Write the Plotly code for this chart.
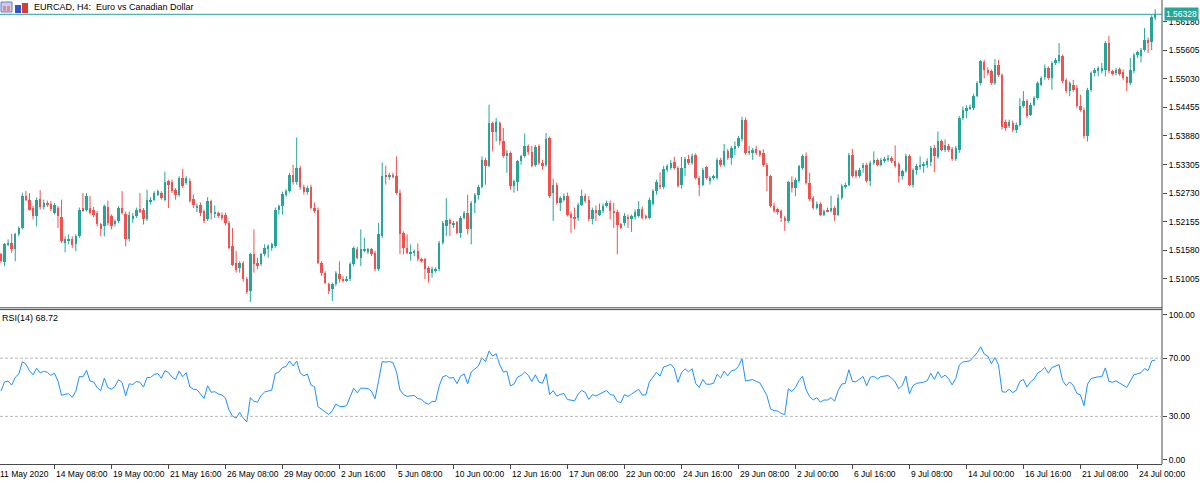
#!/usr/bin/env python3
# -*- coding: utf-8 -*-

'''
EURCAD H4 candles with RSI(14) pane, MetaTrader look
'''

import plotly

# OHLC of the H4 bars, 11 May 2020 20:00 .. 24 Jul 2020 20:00
opens = [
    1.5150, 1.5134, 1.5170, 1.5172, 1.5160, 1.5190, 1.5203, 1.5268, 1.5260, 1.5243,
    1.5227, 1.5261, 1.5245, 1.5254, 1.5252, 1.5233, 1.5243, 1.5225, 1.5173, 1.5178,
    1.5180, 1.5170, 1.5186, 1.5243, 1.5240, 1.5243, 1.5240, 1.5233, 1.5210, 1.5206,
    1.5246, 1.5227, 1.5210, 1.5216, 1.5243, 1.5232, 1.5180, 1.5220, 1.5227, 1.5241,
    1.5240, 1.5221, 1.5255, 1.5260, 1.5270, 1.5273, 1.5260, 1.5297, 1.5296, 1.5279,
    1.5270, 1.5303, 1.5293, 1.5298, 1.5262, 1.5245, 1.5250, 1.5237, 1.5220, 1.5257,
    1.5232, 1.5233, 1.5230, 1.5230, 1.5213, 1.5166, 1.5133, 1.5123, 1.5132, 1.5100,
    1.5076, 1.5150, 1.5133, 1.5130, 1.5150, 1.5160, 1.5163, 1.5166, 1.5240, 1.5247,
    1.5270, 1.5277, 1.5310, 1.5295, 1.5324, 1.5285, 1.5275, 1.5286, 1.5244, 1.5240,
    1.5133, 1.5113, 1.5090, 1.5080, 1.5090, 1.5110, 1.5100, 1.5098, 1.5100, 1.5130,
    1.5161, 1.5143, 1.5158, 1.5156, 1.5160, 1.5153, 1.5120, 1.5187, 1.5308, 1.5306,
    1.5310, 1.5307, 1.5274, 1.5193, 1.5163, 1.5150, 1.5153, 1.5157, 1.5140, 1.5140,
    1.5123, 1.5113, 1.5118, 1.5120, 1.5173, 1.5207, 1.5219, 1.5210, 1.5214, 1.5193,
    1.5223, 1.5233, 1.5201, 1.5254, 1.5270, 1.5286, 1.5340, 1.5328, 1.5414, 1.5397,
    1.5414, 1.5377, 1.5348, 1.5354, 1.5287, 1.5295, 1.5337, 1.5347, 1.5368, 1.5355,
    1.5330, 1.5367, 1.5334, 1.5330, 1.5384, 1.5274, 1.5290, 1.5254, 1.5260, 1.5268,
    1.5232, 1.5226, 1.5223, 1.5250, 1.5268, 1.5260, 1.5220, 1.5240, 1.5230, 1.5237,
    1.5248, 1.5254, 1.5237, 1.5235, 1.5210, 1.5213, 1.5226, 1.5221, 1.5225, 1.5227,
    1.5241, 1.5227, 1.5223, 1.5252, 1.5277, 1.5290, 1.5285, 1.5320, 1.5324, 1.5335,
    1.5324, 1.5290, 1.5324, 1.5342, 1.5334, 1.5349, 1.5304, 1.5290, 1.5325, 1.5297,
    1.5304, 1.5304, 1.5340, 1.5330, 1.5357, 1.5344, 1.5362, 1.5368, 1.5381, 1.5421,
    1.5354, 1.5354, 1.5362, 1.5357, 1.5354, 1.5330, 1.5307, 1.5248, 1.5241, 1.5237,
    1.5223, 1.5216, 1.5295, 1.5284, 1.5297, 1.5324, 1.5347, 1.5294, 1.5264, 1.5244,
    1.5252, 1.5230, 1.5240, 1.5237, 1.5244, 1.5230, 1.5264, 1.5287, 1.5290, 1.5350,
    1.5317, 1.5307, 1.5324, 1.5330, 1.5297, 1.5334, 1.5339, 1.5330, 1.5339, 1.5340,
    1.5344, 1.5337, 1.5332, 1.5307, 1.5317, 1.5347, 1.5290, 1.5319, 1.5327, 1.5327,
    1.5330, 1.5335, 1.5364, 1.5346, 1.5377, 1.5360, 1.5368, 1.5362, 1.5342, 1.5360,
    1.5424, 1.5438, 1.5444, 1.5444, 1.5469, 1.5494, 1.5536, 1.5520, 1.5518, 1.5495,
    1.5531, 1.5511, 1.5417, 1.5409, 1.5415, 1.5401, 1.5411, 1.5449, 1.5458, 1.5431,
    1.5451, 1.5464, 1.5491, 1.5506, 1.5524, 1.5505, 1.5535, 1.5538, 1.5548, 1.5501,
    1.5478, 1.5491, 1.5484, 1.5448, 1.5441, 1.5387, 1.5481, 1.5514, 1.5518, 1.5518,
    1.5521, 1.5575, 1.5518, 1.5514, 1.5522, 1.5516, 1.5506, 1.5494, 1.5518, 1.5551,
    1.5548, 1.5561, 1.5582, 1.5578, 1.5625,
]
highs = [
    1.5153, 1.5173, 1.5180, 1.5191, 1.5193, 1.5206, 1.5274, 1.5277, 1.5273, 1.5247,
    1.5264, 1.5279, 1.5260, 1.5258, 1.5257, 1.5253, 1.5247, 1.5260, 1.5186, 1.5190,
    1.5186, 1.5190, 1.5244, 1.5273, 1.5273, 1.5267, 1.5245, 1.5237, 1.5213, 1.5250,
    1.5258, 1.5230, 1.5220, 1.5247, 1.5277, 1.5236, 1.5236, 1.5233, 1.5244, 1.5273,
    1.5243, 1.5280, 1.5265, 1.5277, 1.5280, 1.5277, 1.5316, 1.5300, 1.5300, 1.5283,
    1.5307, 1.5322, 1.5307, 1.5303, 1.5270, 1.5252, 1.5254, 1.5240, 1.5265, 1.5260,
    1.5248, 1.5236, 1.5234, 1.5234, 1.5217, 1.5203, 1.5157, 1.5136, 1.5136, 1.5104,
    1.5153, 1.5200, 1.5143, 1.5153, 1.5170, 1.5170, 1.5173, 1.5244, 1.5250, 1.5276,
    1.5281, 1.5314, 1.5330, 1.5385, 1.5328, 1.5290, 1.5288, 1.5290, 1.5254, 1.5244,
    1.5136, 1.5116, 1.5093, 1.5093, 1.5116, 1.5136, 1.5106, 1.5106, 1.5134, 1.5166,
    1.5165, 1.5200, 1.5183, 1.5163, 1.5163, 1.5157, 1.5213, 1.5335, 1.5328, 1.5314,
    1.5314, 1.5347, 1.5280, 1.5196, 1.5190, 1.5170, 1.5160, 1.5172, 1.5143, 1.5143,
    1.5126, 1.5125, 1.5124, 1.5177, 1.5217, 1.5263, 1.5222, 1.5217, 1.5217, 1.5227,
    1.5237, 1.5270, 1.5257, 1.5273, 1.5290, 1.5347, 1.5344, 1.5451, 1.5417, 1.5424,
    1.5417, 1.5404, 1.5360, 1.5357, 1.5300, 1.5340, 1.5350, 1.5393, 1.5371, 1.5368,
    1.5370, 1.5371, 1.5340, 1.5394, 1.5387, 1.5302, 1.5294, 1.5267, 1.5272, 1.5274,
    1.5236, 1.5244, 1.5254, 1.5280, 1.5272, 1.5267, 1.5244, 1.5248, 1.5252, 1.5252,
    1.5258, 1.5258, 1.5254, 1.5240, 1.5213, 1.5233, 1.5230, 1.5230, 1.5240, 1.5257,
    1.5246, 1.5230, 1.5264, 1.5281, 1.5300, 1.5315, 1.5328, 1.5331, 1.5340, 1.5346,
    1.5327, 1.5346, 1.5346, 1.5350, 1.5353, 1.5353, 1.5307, 1.5324, 1.5328, 1.5307,
    1.5310, 1.5344, 1.5344, 1.5372, 1.5362, 1.5368, 1.5377, 1.5388, 1.5427, 1.5425,
    1.5368, 1.5364, 1.5368, 1.5360, 1.5361, 1.5334, 1.5310, 1.5254, 1.5244, 1.5240,
    1.5227, 1.5298, 1.5307, 1.5304, 1.5330, 1.5351, 1.5355, 1.5314, 1.5267, 1.5256,
    1.5255, 1.5240, 1.5244, 1.5268, 1.5247, 1.5270, 1.5291, 1.5294, 1.5354, 1.5362,
    1.5320, 1.5324, 1.5334, 1.5334, 1.5338, 1.5357, 1.5343, 1.5344, 1.5346, 1.5350,
    1.5347, 1.5369, 1.5335, 1.5320, 1.5352, 1.5351, 1.5323, 1.5332, 1.5347, 1.5336,
    1.5343, 1.5368, 1.5370, 1.5397, 1.5381, 1.5381, 1.5372, 1.5366, 1.5368, 1.5428,
    1.5447, 1.5450, 1.5451, 1.5473, 1.5498, 1.5541, 1.5541, 1.5526, 1.5522, 1.5543,
    1.5541, 1.5514, 1.5421, 1.5421, 1.5419, 1.5415, 1.5464, 1.5478, 1.5462, 1.5455,
    1.5468, 1.5498, 1.5508, 1.5532, 1.5528, 1.5538, 1.5545, 1.5575, 1.5552, 1.5504,
    1.5498, 1.5501, 1.5491, 1.5471, 1.5445, 1.5485, 1.5518, 1.5525, 1.5528, 1.5535,
    1.5579, 1.5590, 1.5521, 1.5525, 1.5526, 1.5522, 1.5509, 1.5545, 1.5555, 1.5560,
    1.5565, 1.5605, 1.5586, 1.5631, 1.5643,
]
lows = [
    1.5133, 1.5126, 1.5166, 1.5153, 1.5136, 1.5186, 1.5200, 1.5257, 1.5238, 1.5220,
    1.5206, 1.5240, 1.5240, 1.5245, 1.5237, 1.5230, 1.5203, 1.5173, 1.5154, 1.5170,
    1.5163, 1.5156, 1.5183, 1.5235, 1.5236, 1.5230, 1.5225, 1.5206, 1.5186, 1.5186,
    1.5208, 1.5200, 1.5206, 1.5213, 1.5230, 1.5166, 1.5176, 1.5213, 1.5223, 1.5233,
    1.5210, 1.5217, 1.5250, 1.5257, 1.5267, 1.5260, 1.5257, 1.5243, 1.5273, 1.5260,
    1.5266, 1.5283, 1.5290, 1.5254, 1.5243, 1.5235, 1.5227, 1.5213, 1.5217, 1.5220,
    1.5223, 1.5223, 1.5218, 1.5208, 1.5160, 1.5126, 1.5113, 1.5113, 1.5095, 1.5070,
    1.5054, 1.5113, 1.5120, 1.5126, 1.5146, 1.5143, 1.5157, 1.5163, 1.5230, 1.5230,
    1.5266, 1.5274, 1.5290, 1.5290, 1.5280, 1.5270, 1.5270, 1.5240, 1.5233, 1.5130,
    1.5106, 1.5090, 1.5070, 1.5056, 1.5086, 1.5093, 1.5093, 1.5095, 1.5096, 1.5126,
    1.5140, 1.5126, 1.5154, 1.5150, 1.5146, 1.5116, 1.5116, 1.5183, 1.5290, 1.5300,
    1.5303, 1.5270, 1.5150, 1.5150, 1.5150, 1.5137, 1.5146, 1.5136, 1.5133, 1.5100,
    1.5093, 1.5103, 1.5113, 1.5116, 1.5170, 1.5187, 1.5187, 1.5203, 1.5190, 1.5183,
    1.5220, 1.5190, 1.5170, 1.5233, 1.5260, 1.5283, 1.5290, 1.5325, 1.5357, 1.5377,
    1.5370, 1.5344, 1.5314, 1.5280, 1.5274, 1.5277, 1.5330, 1.5344, 1.5350, 1.5325,
    1.5326, 1.5330, 1.5320, 1.5326, 1.5263, 1.5217, 1.5250, 1.5237, 1.5256, 1.5226,
    1.5193, 1.5200, 1.5217, 1.5247, 1.5253, 1.5216, 1.5210, 1.5217, 1.5227, 1.5233,
    1.5244, 1.5220, 1.5203, 1.5150, 1.5200, 1.5207, 1.5203, 1.5195, 1.5220, 1.5224,
    1.5220, 1.5220, 1.5220, 1.5248, 1.5270, 1.5281, 1.5281, 1.5315, 1.5320, 1.5320,
    1.5284, 1.5282, 1.5307, 1.5330, 1.5330, 1.5300, 1.5267, 1.5287, 1.5300, 1.5290,
    1.5300, 1.5300, 1.5326, 1.5326, 1.5340, 1.5330, 1.5350, 1.5364, 1.5377, 1.5350,
    1.5350, 1.5340, 1.5350, 1.5346, 1.5326, 1.5277, 1.5244, 1.5234, 1.5230, 1.5215,
    1.5197, 1.5213, 1.5274, 1.5267, 1.5294, 1.5320, 1.5290, 1.5257, 1.5240, 1.5240,
    1.5227, 1.5227, 1.5234, 1.5234, 1.5217, 1.5227, 1.5260, 1.5282, 1.5287, 1.5304,
    1.5303, 1.5304, 1.5314, 1.5294, 1.5287, 1.5330, 1.5327, 1.5327, 1.5334, 1.5336,
    1.5333, 1.5324, 1.5294, 1.5300, 1.5314, 1.5287, 1.5284, 1.5310, 1.5320, 1.5314,
    1.5324, 1.5327, 1.5315, 1.5342, 1.5357, 1.5356, 1.5356, 1.5338, 1.5338, 1.5354,
    1.5420, 1.5424, 1.5440, 1.5440, 1.5466, 1.5490, 1.5504, 1.5510, 1.5491, 1.5491,
    1.5507, 1.5401, 1.5398, 1.5404, 1.5396, 1.5394, 1.5407, 1.5445, 1.5424, 1.5428,
    1.5448, 1.5461, 1.5488, 1.5501, 1.5501, 1.5481, 1.5531, 1.5534, 1.5494, 1.5474,
    1.5468, 1.5477, 1.5444, 1.5437, 1.5383, 1.5377, 1.5477, 1.5508, 1.5508, 1.5514,
    1.5508, 1.5514, 1.5510, 1.5510, 1.5509, 1.5500, 1.5478, 1.5490, 1.5514, 1.5545,
    1.5536, 1.5558, 1.5555, 1.5561, 1.5621,
]
closes = [
    1.5136, 1.5170, 1.5173, 1.5160, 1.5190, 1.5203, 1.5268, 1.5260, 1.5240, 1.5227,
    1.5260, 1.5245, 1.5253, 1.5250, 1.5241, 1.5250, 1.5227, 1.5176, 1.5180, 1.5181,
    1.5168, 1.5186, 1.5240, 1.5239, 1.5267, 1.5233, 1.5230, 1.5210, 1.5200, 1.5247,
    1.5212, 1.5206, 1.5216, 1.5243, 1.5233, 1.5180, 1.5230, 1.5227, 1.5240, 1.5237,
    1.5220, 1.5260, 1.5260, 1.5273, 1.5277, 1.5263, 1.5295, 1.5290, 1.5277, 1.5270,
    1.5303, 1.5287, 1.5303, 1.5258, 1.5250, 1.5248, 1.5233, 1.5217, 1.5257, 1.5233,
    1.5235, 1.5227, 1.5223, 1.5213, 1.5163, 1.5129, 1.5118, 1.5132, 1.5100, 1.5074,
    1.5150, 1.5130, 1.5126, 1.5150, 1.5163, 1.5166, 1.5170, 1.5240, 1.5247, 1.5272,
    1.5277, 1.5310, 1.5295, 1.5324, 1.5285, 1.5275, 1.5284, 1.5244, 1.5237, 1.5133,
    1.5113, 1.5093, 1.5076, 1.5090, 1.5113, 1.5100, 1.5098, 1.5101, 1.5130, 1.5163,
    1.5143, 1.5161, 1.5161, 1.5160, 1.5150, 1.5121, 1.5190, 1.5308, 1.5306, 1.5310,
    1.5307, 1.5274, 1.5190, 1.5163, 1.5153, 1.5155, 1.5157, 1.5140, 1.5138, 1.5120,
    1.5113, 1.5121, 1.5121, 1.5173, 1.5213, 1.5219, 1.5210, 1.5213, 1.5193, 1.5223,
    1.5233, 1.5201, 1.5254, 1.5270, 1.5286, 1.5340, 1.5328, 1.5414, 1.5397, 1.5417,
    1.5377, 1.5348, 1.5354, 1.5287, 1.5297, 1.5337, 1.5347, 1.5368, 1.5355, 1.5328,
    1.5366, 1.5334, 1.5328, 1.5381, 1.5268, 1.5290, 1.5254, 1.5263, 1.5268, 1.5230,
    1.5223, 1.5221, 1.5250, 1.5267, 1.5257, 1.5220, 1.5240, 1.5233, 1.5240, 1.5248,
    1.5254, 1.5237, 1.5235, 1.5208, 1.5203, 1.5227, 1.5220, 1.5227, 1.5235, 1.5241,
    1.5223, 1.5223, 1.5260, 1.5277, 1.5295, 1.5285, 1.5322, 1.5327, 1.5334, 1.5324,
    1.5288, 1.5324, 1.5342, 1.5334, 1.5347, 1.5304, 1.5290, 1.5320, 1.5304, 1.5304,
    1.5307, 1.5340, 1.5330, 1.5357, 1.5344, 1.5364, 1.5368, 1.5383, 1.5421, 1.5354,
    1.5357, 1.5360, 1.5354, 1.5350, 1.5330, 1.5307, 1.5247, 1.5237, 1.5235, 1.5223,
    1.5216, 1.5295, 1.5284, 1.5299, 1.5327, 1.5347, 1.5294, 1.5261, 1.5244, 1.5252,
    1.5230, 1.5237, 1.5237, 1.5244, 1.5230, 1.5264, 1.5287, 1.5290, 1.5350, 1.5308,
    1.5307, 1.5320, 1.5330, 1.5297, 1.5334, 1.5339, 1.5330, 1.5340, 1.5342, 1.5344,
    1.5337, 1.5327, 1.5307, 1.5317, 1.5348, 1.5290, 1.5319, 1.5328, 1.5330, 1.5332,
    1.5337, 1.5364, 1.5347, 1.5377, 1.5360, 1.5370, 1.5360, 1.5342, 1.5364, 1.5424,
    1.5441, 1.5444, 1.5447, 1.5469, 1.5494, 1.5538, 1.5520, 1.5515, 1.5495, 1.5531,
    1.5511, 1.5407, 1.5404, 1.5417, 1.5401, 1.5411, 1.5449, 1.5458, 1.5428, 1.5451,
    1.5464, 1.5494, 1.5504, 1.5524, 1.5505, 1.5535, 1.5541, 1.5551, 1.5498, 1.5478,
    1.5494, 1.5481, 1.5448, 1.5441, 1.5387, 1.5481, 1.5514, 1.5521, 1.5524, 1.5524,
    1.5575, 1.5518, 1.5514, 1.5521, 1.5513, 1.5504, 1.5494, 1.5521, 1.5551, 1.5556,
    1.5561, 1.5581, 1.5575, 1.5627, 1.56328,
]

# time scale labels: bar index -> text
time_label_bars = [0, 15, 31, 47, 63, 79, 95, 111, 127, 143, 159,
                   175, 191, 207, 223, 239, 255, 271, 287, 303, 319]
time_labels = ["11 May 2020", "14 May 08:00", "19 May 00:00", "21 May 16:00", "26 May 08:00",
               "29 May 00:00", "2 Jun 16:00", "5 Jun 08:00", "10 Jun 00:00", "12 Jun 16:00",
               "17 Jun 08:00", "22 Jun 00:00", "24 Jun 16:00", "29 Jun 08:00", "2 Jul 00:00",
               "6 Jul 16:00", "9 Jul 08:00", "14 Jul 00:00", "16 Jul 16:00", "21 Jul 08:00",
               "24 Jul 00:00"]

price_ticks = [1.56180, 1.55605, 1.55030, 1.54455, 1.53880,
               1.53305, 1.52730, 1.52155, 1.51580, 1.51005]
rsi_ticks = [0, 30, 70, 100]
rsi_levels = [70, 30]
last_price = 1.56328
rsi_period = 14
rsi_last_text = "68.72"

BULL = "#26a69a"
BEAR = "#ef5350"
AXIS = "#4a4a4a"
FONT = "Liberation Sans"

# pixel geometry of the 1200x483 window
PLOT_W = 1162.0
PLOT_H = 464.0


def px_x(px):
    return px / PLOT_W


def px_y(py):
    return 1 - py / PLOT_H


def rsi_wilder(values, period, seed_gain=0.0009, seed_loss=0.0010):
    # Wilder smoothing, seeded with average moves of the bars before the window
    avg_gain, avg_loss = seed_gain, seed_loss
    out = [100 - 100 / (1 + avg_gain / avg_loss)]
    for prev, cur in zip(values[:-1], values[1:]):
        ch = cur - prev
        avg_gain = (avg_gain * (period - 1) + max(ch, 0)) / period
        avg_loss = (avg_loss * (period - 1) + max(-ch, 0)) / period
        out.append(100 - 100 / (1 + avg_gain / avg_loss))
    return out


def build_graph_data():
    idx = list(range(len(closes)))
    body_base, body_len, body_col = [], [], []
    wick = {BULL: ([], []), BEAR: ([], [])}
    for i, o, h, l, c in zip(idx, opens, highs, lows, closes):
        col = BULL if c >= o else BEAR
        body_base.append(min(o, c))
        body_len.append(max(abs(c - o), 0.00012))
        body_col.append(col)
        wx, wy = wick[col]
        wx += [i, i, None]
        wy += [l, h, None]
    return {
        "idx": idx,
        "body_base": body_base,
        "body_len": body_len,
        "body_col": body_col,
        "wick": wick,
        "rsi": rsi_wilder(closes, rsi_period),
    }


def draw_chart(graph_data):
    go = plotly.graph_objs
    traces = []
    # wicks first, bodies on top
    for col, (wx, wy) in graph_data["wick"].items():
        traces.append(go.Scatter(x=wx, y=wy, mode="lines", line=dict(color=col, width=1),
                                 xaxis="x", yaxis="y", hoverinfo="skip"))
    traces.append(go.Bar(x=graph_data["idx"], y=graph_data["body_len"], base=graph_data["body_base"],
                         width=0.68, marker=dict(color=graph_data["body_col"], line=dict(width=0)),
                         xaxis="x", yaxis="y"))
    traces.append(go.Scatter(x=graph_data["idx"], y=graph_data["rsi"], mode="lines",
                             line=dict(color="#1e90ff", width=1), xaxis="x2", yaxis="y2"))

    n = len(closes)
    x_range = [-0.28, n + 0.9]
    tick_font = dict(family=FONT, size=8.5, color="#000000")

    shapes = [
        # current price line
        dict(type="line", xref="paper", yref="y", x0=0, x1=1, y0=last_price, y1=last_price,
             line=dict(color=BULL, width=1)),
        # pane separator
        dict(type="line", xref="paper", yref="paper", x0=0, x1=1, y0=px_y(307.8), y1=px_y(307.8),
             line=dict(color=AXIS, width=1)),
        dict(type="line", xref="paper", yref="paper", x0=0, x1=1, y0=px_y(309.6), y1=px_y(309.6),
             line=dict(color=AXIS, width=1)),
        # right scale border
        dict(type="line", xref="paper", yref="paper", x0=1, x1=1, y0=0, y1=1,
             line=dict(color=AXIS, width=1)),
        # window icons in the title bar
        dict(type="rect", xref="paper", yref="paper", x0=px_x(1), x1=px_x(12), y0=px_y(12), y1=px_y(2),
             fillcolor="#c9cdf2", line=dict(color="#6f78c8", width=1)),
        dict(type="rect", xref="paper", yref="paper", x0=px_x(3), x1=px_x(6), y0=px_y(11), y1=px_y(6),
             fillcolor="#e78a8a", line=dict(width=0)),
        dict(type="rect", xref="paper", yref="paper", x0=px_x(7), x1=px_x(10), y0=px_y(11), y1=px_y(6),
             fillcolor="#e78a8a", line=dict(width=0)),
        dict(type="rect", xref="paper", yref="paper", x0=px_x(15), x1=px_x(21), y0=px_y(13), y1=px_y(5),
             fillcolor="#3354c8", line=dict(width=0)),
        dict(type="rect", xref="paper", yref="paper", x0=px_x(22), x1=px_x(28), y0=px_y(13), y1=px_y(3),
             fillcolor="#d93a3a", line=dict(width=0)),
    ]
    for lvl in rsi_levels:
        shapes.append(dict(type="line", xref="paper", yref="y2", x0=0, x1=1, y0=lvl, y1=lvl,
                           line=dict(color="#b8b8b8", width=1, dash="3px,2px")))

    annotations = [
        dict(text="EURCAD, H4:\u00a0 Euro vs Canadian Dollar", xref="paper", yref="paper",
             x=px_x(32), y=px_y(7), xanchor="left", yanchor="middle", showarrow=False,
             font=dict(family=FONT, size=9, color="#000000")),
        dict(text="RSI(14) " + rsi_last_text, xref="paper", yref="paper",
             x=0, y=px_y(318), xanchor="left", yanchor="middle", showarrow=False,
             font=dict(family=FONT, size=9, color="#000000")),
        dict(text="1.56328", xref="paper", yref="y", x=1, y=last_price, xanchor="left",
             yanchor="middle", xshift=2, showarrow=False, bgcolor=BULL, borderpad=1,
             font=dict(family=FONT, size=8.5, color="#ffffff")),
    ]
    for b, txt in zip(time_label_bars, time_labels):
        annotations.append(dict(text=txt, xref="x2", yref="paper", x=b, y=0, xanchor="left",
                                yanchor="top", xshift=-3 if b == 0 else 0, yshift=-3,
                                showarrow=False, font=tick_font))

    layout = go.Layout(
        template="none",
        width=1200, height=483,
        margin=dict(l=0, r=38, t=0, b=19),
        paper_bgcolor="#ffffff", plot_bgcolor="#ffffff",
        showlegend=False, bargap=0,
        xaxis=dict(domain=[0, 1], range=x_range, anchor="y", showticklabels=False, ticks="",
                   showgrid=False, zeroline=False, showline=False, automargin=False),
        xaxis2=dict(domain=[0, 1], range=x_range, anchor="y2", matches="x",
                    tickvals=time_label_bars[1:], ticks="outside", ticklen=4, tickcolor=AXIS,
                    showticklabels=False, showgrid=False, zeroline=False,
                    showline=True, linecolor=AXIS, linewidth=1, automargin=False),
        yaxis=dict(domain=[px_y(307.8), 1], range=[1.50423, 1.56616], anchor="x", side="right",
                   tickvals=price_ticks, ticktext=["%.5f" % v for v in price_ticks],
                   ticks="outside", ticklen=4, tickcolor=AXIS, tickfont=tick_font,
                   showgrid=False, zeroline=False, showline=False, automargin=False),
        yaxis2=dict(domain=[0, px_y(309.6)], range=[-2.76, 103.45], anchor="x2", side="right",
                    tickvals=rsi_ticks, ticktext=["%.2f" % v for v in rsi_ticks],
                    ticks="outside", ticklen=4, tickcolor=AXIS, tickfont=tick_font,
                    showgrid=False, zeroline=False, showline=False, automargin=False),
        shapes=shapes,
        annotations=annotations,
    )
    figure = go.Figure(data=traces, layout=layout)
    # page body margin off, so the figure fills the window from its corner
    figure.write_html("out.html", config={"displayModeBar": False},
                      post_script="document.body.style.margin='0px';")


if __name__ == "__main__":
    graph_data = build_graph_data()
    draw_chart(graph_data)
